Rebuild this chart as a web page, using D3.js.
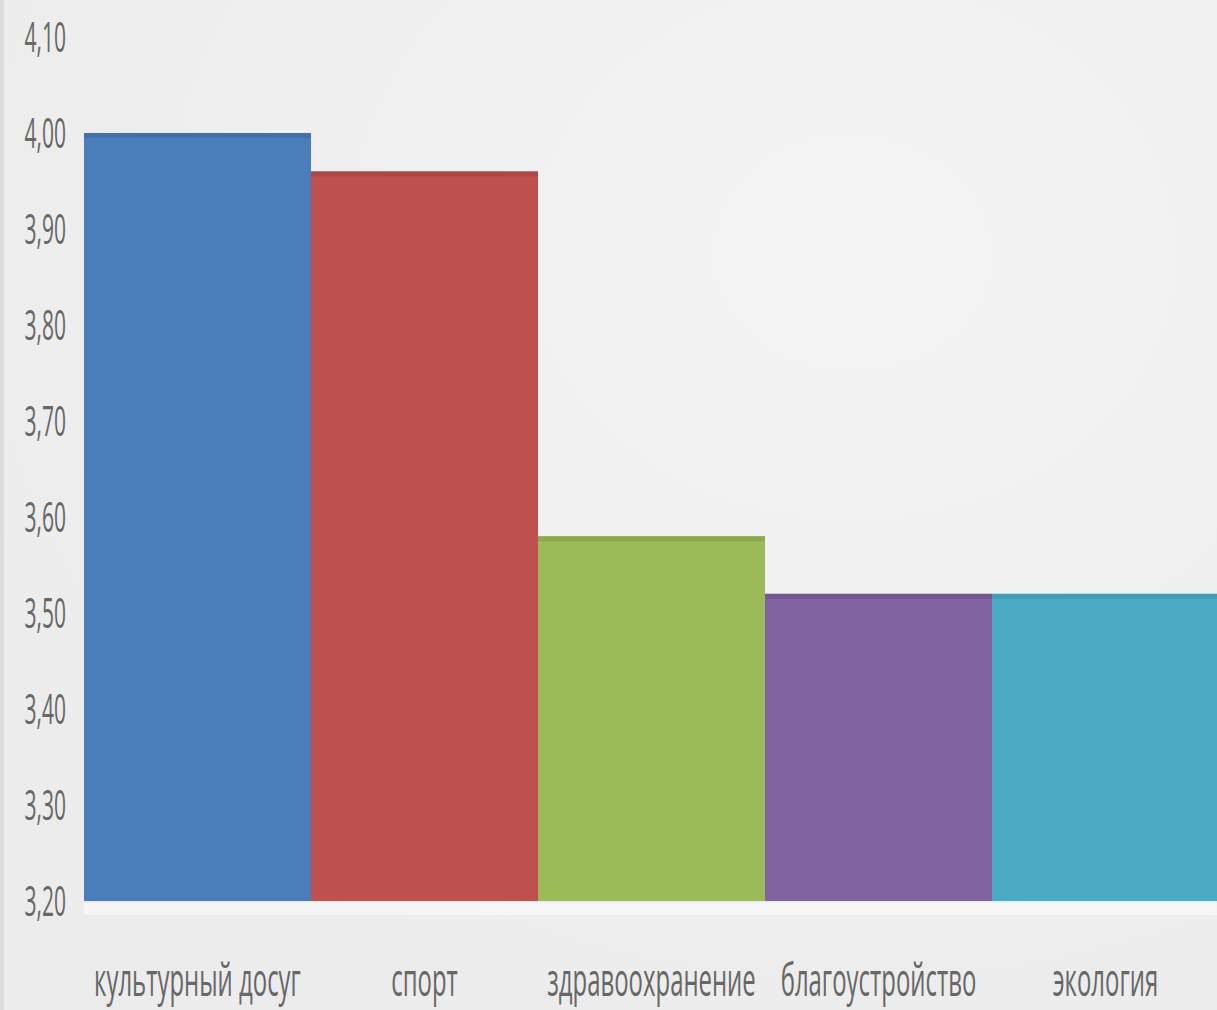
<!DOCTYPE html>
<html>
<head>
<meta charset="utf-8">
<script src="https://cdn.jsdelivr.net/npm/d3@7"></script>
<style>
  html, body { margin: 0; padding: 0; background: #efefef; }
  svg { display: block; }
  .lbl { font-family: "Open Sans", sans-serif; fill: #676767; }
</style>
</head>
<body>
<div id="chart"></div>
<script>
var categories = ['культурный досуг', 'спорт', 'здравоохранение', 'благоустройство', 'экология'];
var values = [4.00, 3.96, 3.58, 3.52, 3.52];
var colors = ['#4a7ebb', '#c0504d', '#9bbb59', '#8064a2', '#4aabc6'];
var tickValues = [3.2, 3.3, 3.4, 3.5, 3.6, 3.7, 3.8, 3.9, 4.0, 4.1];

var width = 1217;
var height = 1010;
var margin = { top: 37, right: -2, bottom: 109, left: 84 };

var svg = d3.select('#chart').append('svg')
    .attr('width', width)
    .attr('height', height);

// background with a soft light patch towards the top right
var defs = svg.append('defs');
var bg = defs.append('radialGradient')
    .attr('id', 'bg')
    .attr('cx', '70%').attr('cy', '25%').attr('r', '80%');
bg.append('stop').attr('offset', '0%').attr('stop-color', '#f4f4f4');
bg.append('stop').attr('offset', '100%').attr('stop-color', '#ececec');

svg.append('rect')
    .attr('width', width)
    .attr('height', height)
    .attr('fill', 'url(#bg)');

svg.append('rect')
    .attr('x', 0).attr('y', 0)
    .attr('width', 4).attr('height', height)
    .attr('fill', '#dcdcdc');

var x = d3.scaleBand()
    .domain(categories)
    .range([margin.left, width - margin.right])
    .padding(0);

var y = d3.scaleLinear()
    .domain([3.2, 4.1])
    .range([height - margin.bottom, margin.top]);

var fmt = function (d) { return d3.format('.2f')(d).replace('.', ','); };

// soft reflection under the bars
svg.append('rect')
    .attr('x', margin.left)
    .attr('y', y(3.2) + 2)
    .attr('width', x.range()[1] - margin.left)
    .attr('height', 12)
    .attr('fill', '#f8f8f8')
    .attr('opacity', 0.8);

var bars = svg.selectAll('.bar')
    .data(values)
    .enter()
    .append('g')
    .attr('class', 'bar');

bars.append('rect')
    .attr('x', function (d, i) { return x(categories[i]); })
    .attr('y', function (d) { return y(d); })
    .attr('width', x.bandwidth())
    .attr('height', function (d) { return y(3.2) - y(d); })
    .attr('fill', function (d, i) { return colors[i]; });

// darker strip along each bar top
bars.append('rect')
    .attr('x', function (d, i) { return x(categories[i]); })
    .attr('y', function (d) { return y(d); })
    .attr('width', x.bandwidth())
    .attr('height', 5)
    .attr('fill', function (d, i) { return d3.color(colors[i]).darker(0.5); })
    .attr('opacity', 0.6);

// y tick labels (condensed look)
var yAxis = svg.append('g');
yAxis.selectAll('text')
    .data(tickValues)
    .enter()
    .append('text')
    .attr('class', 'lbl')
    .attr('transform', function (d) { return 'translate(66,' + y(d) + ') scale(0.5,1)'; })
    .attr('text-anchor', 'end')
    .attr('dy', '0.36em')
    .style('font-size', '42px')
    .text(fmt);

// category labels
var xAxis = svg.append('g');
xAxis.selectAll('text')
    .data(categories)
    .enter()
    .append('text')
    .attr('class', 'lbl')
    .attr('transform', function (d) {
        return 'translate(' + (x(d) + x.bandwidth() / 2) + ',996) scale(0.52,1)';
    })
    .attr('text-anchor', 'middle')
    .style('font-size', '46px')
    .text(function (d) { return d; });
</script>
</body>
</html>
